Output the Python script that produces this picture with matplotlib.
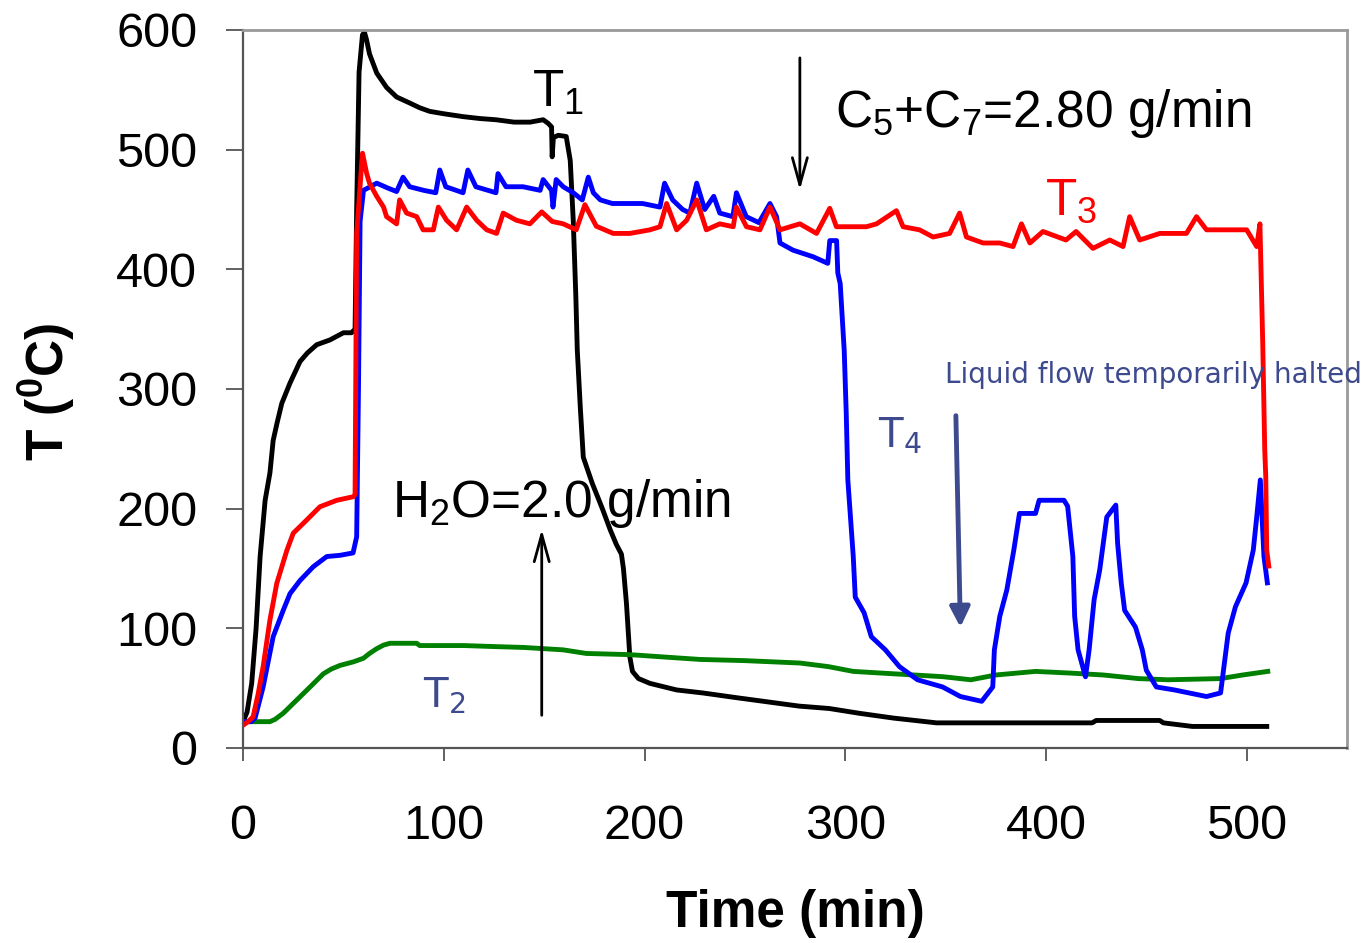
import matplotlib
matplotlib.use('Agg')
import matplotlib.pyplot as plt

plt.rcParams['font.family'] = ['Liberation Sans', 'DejaVu Sans']
plt.rcParams['mathtext.default'] = 'regular'

# reactor temperatures vs time on stream
t1_time = [0, 2, 4.3, 6.5, 8.5, 11, 13.4, 15, 17, 19.3, 23.4, 28.4, 32, 36.7, 43.3, 50, 54, 55.8,
           56.6, 57.8, 59.5, 60.5, 61.5, 63, 66.6, 71.5, 76.5, 83, 88, 93, 100, 109.6, 118, 126, 135,
           143, 149.5, 152, 153.7, 154, 154.6, 157, 161, 163, 164.5, 165.8, 166.5, 168, 169.5, 174,
           179, 183, 186, 188.5, 189.5, 191, 192.7, 194, 197, 202.7, 216, 229, 246, 277, 292, 307,
           324, 345.5, 380, 423, 425, 456.7, 458.5, 473, 495, 510]
t1_temp = [22, 30, 54, 100, 160, 207, 230, 257, 272, 288, 305, 323, 330, 337, 341, 347, 347, 350,
           450, 565, 596, 598, 592, 580, 564, 552, 544, 539, 535, 532, 530, 527.6, 526, 525, 523,
           523, 525, 522, 519, 494, 510, 512, 511, 491, 441, 377, 333, 285, 243, 221,
           200, 182, 170, 162, 150, 121, 76, 64, 58, 54, 48.5, 46, 42, 35, 33, 29,
           25, 21, 21, 21, 23, 23, 21, 18, 18, 18]

t2_time = [0, 13.4, 16, 20, 26.7, 33.4, 40, 44, 48.3, 55, 60, 63, 66.6, 70, 73.2, 86.5, 88, 100,
           110, 126, 140, 159.5, 171, 192.7, 210, 227.6, 250, 277.4, 291.6, 304, 318, 348.5, 362.6,
           375, 394.8, 412, 428.6, 446, 460.7, 487, 498, 510.5]
t2_temp = [22, 22, 24, 29, 40, 51, 62, 66, 69, 72, 75, 79, 83, 86, 87.5, 87.5, 85.6, 85.6,
           85.6, 84.7, 84, 82, 79, 78, 76, 74, 73, 71, 68, 64, 62.6, 59.6, 57,
           61, 64, 62.6, 61, 58, 57, 58, 61, 64]

t3_time = [0, 2.5, 5, 7.5, 10, 13.4, 16.8, 21.8, 25, 31.7, 38.3, 46.7, 55, 55.8, 56.6, 59.5, 61.6,
           63, 66.6, 70, 71.5, 76.5, 78, 81.5, 86.5, 89.7, 94.8, 97.3, 101.4, 106.4, 111.4, 116.4,
           121.4, 126.3, 129.6, 136.2, 142.9, 148.8, 154, 159.5, 166, 170.3, 176, 184.4, 192.7,
           202.7, 207.7, 211, 216, 221, 226, 230.8, 237.5, 244.2, 245.8, 250.8, 257.5, 262.5,
           267.5, 277.4, 285.7, 292.3, 295.6, 310.6, 315.6, 325.5, 328.8, 337, 343.8, 352, 357,
           360.4, 368.7, 377, 383.6, 387.8, 392, 398.5, 410, 415, 423.4, 431.8, 438.4, 441.7,
           446.7, 456.7, 470, 475, 480, 493.3, 500, 505, 506.6, 508, 509, 509.5, 510, 511]
t3_temp = [19, 22, 26, 45, 68, 107, 137.6, 165, 179.5, 190.5, 201.6, 207, 210, 212, 430, 497, 480,
           472, 461, 452, 444, 438, 458, 447, 444, 433, 433, 452, 441, 433, 452, 441,
           433, 430, 447, 441, 438, 448, 440, 438, 433, 454, 436, 430, 430,
           433, 435.6, 455, 433, 441, 458, 433, 438, 435.6, 452, 435.6, 433, 452,
           433, 438, 430, 451, 435.6, 435.6, 438, 449, 435.6, 433, 427, 430, 447,
           427, 422, 422, 419, 438, 422, 431.6, 424.5, 431.6, 417.5, 424.5, 419, 444,
           424.5, 430, 430, 444, 433, 433, 433, 419, 438, 338, 249, 227, 165, 152]

t4_time = [0, 4, 6, 10, 15, 20, 23.4, 28.4, 35, 41.7, 48.3, 54.8, 56.6, 57.5, 58.3, 60, 66.6, 72,
           76.5, 79.7, 83, 90, 96, 98, 101, 109.6, 112, 116, 126, 127, 131, 139.5, 148, 149.5,
           153.7, 154.4, 156, 159.5, 164.5, 169, 172, 174.5, 178, 184, 192.7, 199, 207.7, 210,
           214, 219, 222.6, 226, 230, 234.5, 237.5, 244, 245.8, 250.7, 257, 262.5, 265.8, 267.5,
           274, 284, 291.3, 292.3, 295.7, 296.3, 297.5, 299.5, 300.5, 301.3, 304, 305, 309.4,
           313, 320, 327, 336, 348.5, 357.4, 368, 373.5, 374.3, 377, 380.5, 384, 386.8, 394.8,
           396.6, 409, 410.8, 413.4, 414.3, 416, 419.7, 421.5, 424, 426.8, 430.3, 434.8, 435.7,
           437.5, 439.2, 444.6, 448, 450, 455, 464, 480, 487, 490.8, 494.4, 499.7, 503.3, 505,
           506.8, 508.6, 510.3]
t4_temp = [22, 22, 25, 51, 93, 115, 129, 140, 151.5, 160, 161, 163, 176.5, 300, 440, 466, 472, 468,
           465, 477, 469, 466, 464, 483, 469, 464, 483, 469, 464, 480, 469, 469, 466, 475,
           466, 452, 475, 469, 464, 458, 477, 464, 458, 455, 455, 455, 452, 472,
           458, 450, 447, 472, 450, 461, 447, 444, 464, 444, 439, 455, 444, 422,
           416, 410.5, 405, 424, 424, 397, 388, 332, 280, 224, 160, 126, 113,
           93, 82, 68, 57, 51, 43, 39, 51, 82, 110, 132, 165.5, 196, 196,
           207, 207, 202, 160, 110, 82, 59.5, 82, 124, 149, 193, 203, 171,
           138, 115, 101, 82, 65, 51, 48.5, 43, 46, 96, 118, 138, 165.5, 193,
           224, 160, 138]

x_ticks = [0, 100, 200, 300, 400, 500]
y_ticks = [0, 100, 200, 300, 400, 500, 600]

slate = '#3E4A8E'

fig = plt.figure(figsize=(13.67, 9.43), dpi=100)
ax = fig.add_axes([0.1778, 0.2068, 0.8076, 0.7614])

ax.plot(t1_time, t1_temp, color='black', lw=3.5, solid_joinstyle='round')
ax.plot(t2_time, t2_temp, color='#008000', lw=3.5, solid_joinstyle='round')
ax.plot(t4_time, t4_temp, color='#0000FF', lw=3.5, solid_joinstyle='round')
ax.plot(t3_time, t3_temp, color='#FF0000', lw=3.5, solid_joinstyle='round')

ax.set_xlim(0, 550)
ax.set_ylim(0, 600)
ax.set_xticks(x_ticks)
ax.set_yticks(y_ticks)
ax.tick_params(axis='x', labelsize=35, direction='out', length=9, width=1.3,
               color='#555555', pad=31)
ax.tick_params(axis='y', labelsize=35, direction='out', length=12, width=1.3,
               color='#555555', pad=21)
for side in ['left', 'bottom']:
    ax.spines[side].set_color('#555555')
    ax.spines[side].set_linewidth(1.6)
for side in ['top', 'right']:
    ax.spines[side].set_color('#999999')
    ax.spines[side].set_linewidth(2)

fig.text(795 / 1367, 1 - 913 / 943, 'Time (min)', fontsize=37, fontweight='bold',
         ha='center', va='center')
fig.text(47 / 1367, 1 - 392 / 943, 'T ($^0$C)', fontsize=37, fontweight='bold',
         rotation=90, ha='center', va='center')

# curve labels
ax.text(144, 535.6, 'T$_1$', fontsize=37, color='black', va='baseline')
ax.text(399.4, 445.4, 'T$_3$', fontsize=37, color='#FF0000', va='baseline')
ax.text(89.6, 34.3, 'T$_2$', fontsize=29, color=slate, family='DejaVu Sans', va='baseline')
ax.text(316.2, 251.5, 'T$_4$', fontsize=29, color=slate, family='DejaVu Sans', va='baseline')

# feed events
ax.text(294.8, 519, 'C$_5$+C$_7$=2.80 g/min', fontsize=37, va='baseline')
ax.annotate('', xy=(277.4, 464), xytext=(277.4, 579),
            arrowprops=dict(arrowstyle='->,head_length=0.65,head_width=0.18',
                            color='black', lw=2, mutation_scale=30))
ax.text(74.2, 193, 'H$_2$O=2.0 g/min', fontsize=37, va='baseline')
ax.annotate('', xy=(148.8, 185), xytext=(148.8, 25),
            arrowprops=dict(arrowstyle='->,head_length=0.65,head_width=0.18',
                            color='black', lw=2, mutation_scale=30))
ax.text(349.6, 305, 'Liquid flow temporarily halted', fontsize=20, color=slate,
        family='DejaVu Sans', va='baseline')
ax.annotate('', xy=(357.4, 98.6), xytext=(355.1, 280),
            arrowprops=dict(arrowstyle='-|>', color=slate, lw=3.5, mutation_scale=30))

fig.savefig('out.png', dpi=100)
